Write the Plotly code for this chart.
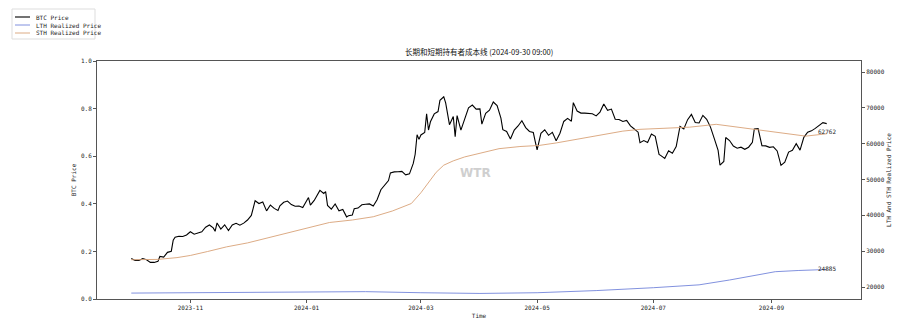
import plotly.graph_objects as go

btc_dates = [
    "2023-10-01","2023-10-03","2023-10-05","2023-10-07","2023-10-09","2023-10-11","2023-10-13","2023-10-15",
    "2023-10-16","2023-10-18","2023-10-20","2023-10-22","2023-10-23","2023-10-24","2023-10-26","2023-10-28",
    "2023-10-30","2023-11-01","2023-11-03","2023-11-05","2023-11-07","2023-11-09","2023-11-11","2023-11-13",
    "2023-11-14","2023-11-15","2023-11-17","2023-11-19","2023-11-21","2023-11-23","2023-11-25","2023-11-27",
    "2023-11-29","2023-12-01","2023-12-03","2023-12-04","2023-12-05","2023-12-07","2023-12-09","2023-12-11",
    "2023-12-13","2023-12-15","2023-12-17","2023-12-18","2023-12-20","2023-12-22","2023-12-24","2023-12-26",
    "2023-12-28","2023-12-30","2024-01-01","2024-01-02","2024-01-03","2024-01-05","2024-01-08","2024-01-10",
    "2024-01-11","2024-01-12","2024-01-14","2024-01-16","2024-01-18","2024-01-20","2024-01-22","2024-01-23",
    "2024-01-25","2024-01-26","2024-01-28","2024-01-30","2024-02-01","2024-02-03","2024-02-05","2024-02-07",
    "2024-02-09","2024-02-11","2024-02-13","2024-02-14","2024-02-16","2024-02-18","2024-02-20","2024-02-22",
    "2024-02-24","2024-02-26","2024-02-27","2024-02-28","2024-02-29","2024-03-01","2024-03-03","2024-03-04",
    "2024-03-05","2024-03-06","2024-03-08","2024-03-10","2024-03-11","2024-03-13","2024-03-14","2024-03-16",
    "2024-03-18","2024-03-19","2024-03-20","2024-03-22","2024-03-24","2024-03-26","2024-03-28","2024-03-30",
    "2024-04-01","2024-04-02","2024-04-04","2024-04-06","2024-04-08","2024-04-10","2024-04-12","2024-04-13",
    "2024-04-15","2024-04-17","2024-04-19","2024-04-21","2024-04-23","2024-04-25","2024-04-27","2024-04-29",
    "2024-04-30","2024-05-01","2024-05-03","2024-05-05","2024-05-07","2024-05-09","2024-05-11","2024-05-13",
    "2024-05-15","2024-05-17","2024-05-19","2024-05-20","2024-05-22","2024-05-24","2024-05-26","2024-05-28",
    "2024-05-30","2024-06-01","2024-06-03","2024-06-05","2024-06-07","2024-06-09","2024-06-11","2024-06-13",
    "2024-06-15","2024-06-17","2024-06-19","2024-06-21","2024-06-23","2024-06-24","2024-06-26","2024-06-28",
    "2024-06-30","2024-07-02","2024-07-04","2024-07-05","2024-07-07","2024-07-09","2024-07-11","2024-07-13",
    "2024-07-15","2024-07-17","2024-07-19","2024-07-21","2024-07-23","2024-07-25","2024-07-27","2024-07-29",
    "2024-07-31","2024-08-02","2024-08-04","2024-08-05","2024-08-07","2024-08-08","2024-08-10","2024-08-12",
    "2024-08-14","2024-08-16","2024-08-18","2024-08-20","2024-08-22","2024-08-23","2024-08-25","2024-08-27",
    "2024-08-29","2024-08-31","2024-09-02","2024-09-04","2024-09-06","2024-09-08","2024-09-10","2024-09-12",
    "2024-09-14","2024-09-16","2024-09-18","2024-09-20","2024-09-22","2024-09-24","2024-09-26","2024-09-28",
    "2024-09-30",
]
btc_price = [
    27980, 27430, 27420, 27950, 27590, 26870, 26860, 27160,
    28520, 28330, 29670, 29990, 33090, 33900, 34150, 34090,
    34500, 35420, 34730, 35050, 35420, 36690, 37300, 36490,
    35540, 37880, 36160, 37360, 35750, 37300, 37790, 37250,
    37830, 38690, 39970, 41990, 44080, 43290, 43720, 41240,
    42880, 41930, 41360, 42660, 43650, 43980, 43010, 42520,
    42580, 42150, 44180, 44950, 42850, 44160, 46970, 46110,
    46630, 42780, 41730, 43150, 41280, 41620, 39570, 39890,
    40080, 41820, 42030, 42940, 43090, 43190, 42580, 44340,
    47150, 48300, 49700, 51830, 52130, 52150, 52250, 51300,
    51580, 54490, 57050, 62500, 61200, 62440, 63130, 68330,
    63800, 66110, 68310, 68960, 72100, 73080, 71400, 65300,
    67600, 61930, 67840, 63780, 67210, 69990, 70780, 69650,
    69700, 65450, 68500, 69360, 71630, 70630, 67110, 63900,
    63420, 61280, 63800, 64940, 66410, 64480, 63420, 63110,
    60610, 58250, 62890, 63890, 62330, 63160, 60790, 62930,
    66200, 67050, 66270, 71450, 69120, 68530, 68510, 68360,
    68350, 67750, 68810, 71080, 69300, 69650, 66820, 66760,
    66190, 66490, 64960, 64100, 63200, 60280, 60860, 60320,
    62680, 62040, 57020, 56660, 55860, 58040, 57340, 59190,
    64800, 64100, 66700, 68170, 65930, 65780, 67910, 66800,
    64620, 61410, 58110, 53990, 55030, 61710, 60880, 59340,
    58740, 59010, 58430, 59010, 60380, 64090, 64180, 59420,
    59370, 58970, 59130, 57970, 53960, 54840, 57640, 58130,
    60000, 58200, 61760, 63190, 63580, 64260, 65180, 65870,
    65600,
]

sth_dates = [
    "2023-10-01","2023-10-15","2023-10-25","2023-11-01","2023-11-10","2023-11-20","2023-12-01","2023-12-10",
    "2023-12-20","2024-01-01","2024-01-13","2024-01-25","2024-02-05","2024-02-15","2024-02-25","2024-03-01",
    "2024-03-05","2024-03-09","2024-03-13","2024-03-18","2024-03-24","2024-04-01","2024-04-11","2024-04-22",
    "2024-05-02","2024-05-11","2024-05-25","2024-06-05","2024-06-15","2024-06-24","2024-07-05","2024-07-20",
    "2024-08-03","2024-08-12","2024-08-24","2024-09-05","2024-09-19","2024-09-30",
]
sth_price = [
    27600, 27700, 28200, 28800, 29900, 31200, 32300, 33500,
    35000, 36600, 38000, 38700, 39600, 41200, 43300, 46300,
    49300, 52000, 54000, 55200, 56300, 57400, 58600, 59200,
    59500, 60200, 61600, 62700, 63500, 64000, 64300, 64600,
    65400, 64800, 64000, 63000, 62100, 62762,
]

lth_dates = [
    "2023-10-01","2023-11-01","2023-12-01","2024-01-01","2024-02-01","2024-03-01","2024-04-01","2024-05-01",
    "2024-06-01","2024-07-01","2024-07-25","2024-08-10","2024-08-24","2024-09-03","2024-09-15","2024-09-30",
]
lth_price = [
    18300, 18400, 18600, 18800, 18700, 18400, 18200, 18400,
    19000, 19800, 20600, 21950, 23350, 24270, 24600, 24885,
]

series_names = ["BTC Price", "LTH Realized Price", "STH Realized Price"]
series_colors = ["#000000", "#7384da", "#d8a277"]

x_ticks = ["2023-11-01", "2024-01-01", "2024-03-01", "2024-05-01", "2024-07-01", "2024-09-01"]
x_tick_labels = ["2023-11", "2024-01", "2024-03", "2024-05", "2024-07", "2024-09"]
left_ticks = [0.0, 0.2, 0.4, 0.6, 0.8, 1.0]
right_ticks = [20000, 30000, 40000, 50000, 60000, 70000, 80000]

FONT = "DejaVu Sans Mono, Noto Sans CJK SC"
AXC = "#555555"
W, H = 918, 328
ML, MR, MT, MB = 97, 57, 61, 29
PW, PH = W - ML - MR, H - MT - MB


def px_x(p):
    return (p - ML) / PW


def px_y(p):
    return (H - MB - p) / PH


fig = go.Figure()
fig.add_trace(go.Scatter(x=[btc_dates[0]], y=[None], yaxis="y", showlegend=False, hoverinfo="skip"))
fig.add_trace(go.Scatter(x=btc_dates, y=btc_price, name=series_names[0], yaxis="y2", mode="lines",
                         line=dict(color=series_colors[0], width=1.1)))
fig.add_trace(go.Scatter(x=lth_dates, y=lth_price, name=series_names[1], yaxis="y2", mode="lines",
                         line=dict(color=series_colors[1], width=0.9)))
fig.add_trace(go.Scatter(x=sth_dates, y=sth_price, name=series_names[2], yaxis="y2", mode="lines",
                         line=dict(color=series_colors[2], width=0.9)))

fig.add_annotation(x=btc_dates[-1], y=sth_price[-1], xref="x", yref="y2", text=str(sth_price[-1]),
                   showarrow=False, xanchor="center", yanchor="middle", yshift=2,
                   font=dict(family=FONT, size=6, color="#222"))
fig.add_annotation(x=btc_dates[-1], y=lth_price[-1], xref="x", yref="y2", text=str(lth_price[-1]),
                   showarrow=False, xanchor="center", yanchor="middle", yshift=1,
                   font=dict(family=FONT, size=6, color="#222"))
fig.add_annotation(x=0.496, y=0.53, xref="paper", yref="paper", text="<b>WTR</b>", showarrow=False,
                   font=dict(family="DejaVu Sans", size=12, color="#cfcfcf"))

# compact matplotlib-style legend box
fig.add_shape(type="rect", xref="paper", yref="paper", x0=px_x(12), x1=px_x(95), y0=px_y(39), y1=px_y(9),
              line=dict(color="#dddddd", width=1), fillcolor="white", layer="above")
for i, (nm, col) in enumerate(zip(series_names, series_colors)):
    yy = 17 + 8 * i
    fig.add_shape(type="line", xref="paper", yref="paper", x0=px_x(15), x1=px_x(30), y0=px_y(yy), y1=px_y(yy),
                  line=dict(color=col, width=1.1 if i == 0 else 0.9), layer="above")
    fig.add_annotation(x=px_x(34), y=px_y(yy), xref="paper", yref="paper", text=nm, showarrow=False,
                       xanchor="left", yanchor="middle", font=dict(family=FONT, size=6, color="#222"))

fig.update_layout(
    width=W, height=H,
    margin=dict(l=ML, r=MR, t=MT, b=MB, autoexpand=False),
    paper_bgcolor="white", plot_bgcolor="white",
    font=dict(family=FONT, size=6, color="#222"),
    title=dict(text="长期和短期持有者成本线 (2024-09-30 09:00)", x=0.522, xanchor="center",
               yref="container", y=1 - 52 / H, yanchor="middle",
               font=dict(family="Noto Sans CJK SC", size=7.5, color="#111")),
    showlegend=False,
    xaxis=dict(type="date", range=["2023-09-13", "2024-10-18"], tickvals=x_ticks, ticktext=x_tick_labels,
               showgrid=False, zeroline=False, showline=True, linecolor=AXC, linewidth=1, mirror=True,
               ticks="outside", ticklen=3, tickcolor=AXC, tickfont=dict(size=6), automargin=False,
               title=dict(text="Time", standoff=3, font=dict(size=6))),
    yaxis=dict(range=[0, 1], tickvals=left_ticks, tickformat=".1f", showgrid=False, zeroline=False,
               showline=True, linecolor=AXC, linewidth=1, ticks="outside", ticklen=3, tickcolor=AXC,
               tickfont=dict(size=6), automargin=False,
               title=dict(text="BTC Price", standoff=3, font=dict(size=6))),
    yaxis2=dict(range=[16650, 83070], tickvals=right_ticks, tickformat="d", overlaying="y", side="right",
                showgrid=False, zeroline=False, showline=True, linecolor=AXC, linewidth=1, ticks="outside",
                ticklen=3, tickcolor=AXC, tickfont=dict(size=6), automargin=False,
                title=dict(text="LTH And STH Realized Price", standoff=3, font=dict(size=6))),
)

fig.write_html("out.html")
